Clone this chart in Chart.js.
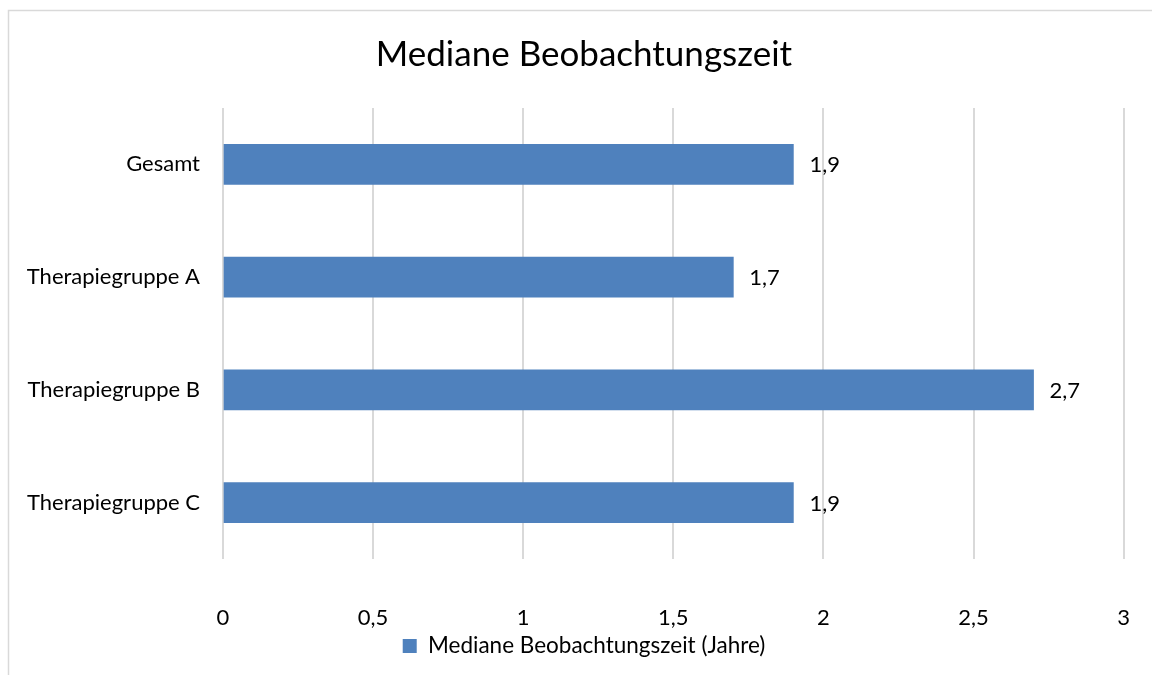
<!DOCTYPE html>
<html>
<head>
<meta charset="utf-8">
<script src="https://cdn.jsdelivr.net/npm/chart.js@4/dist/chart.umd.min.js"></script>
<style>
html,body{margin:0;padding:0;background:#fff;}
#wrap{width:1152px;height:675px;position:relative;}
</style>
</head>
<body>
<div id="wrap"><canvas id="c" width="1152" height="675"></canvas></div>
<script>
const categories = ["Gesamt", "Therapiegruppe A", "Therapiegruppe B", "Therapiegruppe C"];
const seriesName = "Mediane Beobachtungszeit (Jahre)";
const values = [1.9, 1.7, 2.7, 1.9];
const titleText = "Mediane Beobachtungszeit";
const xMin = 0, xMax = 3, xStep = 0.5;

const FONT = "Lato, 'Open Sans', sans-serif";
const fmt = v => String(v).replace('.', ',');

const framePlugin = {
  id: 'frame',
  beforeDraw(chart) {
    const ctx = chart.ctx;
    ctx.save();
    ctx.fillStyle = '#ffffff';
    ctx.fillRect(0, 0, chart.width, chart.height);
    ctx.strokeStyle = '#d9d9d9';
    ctx.lineWidth = 1.5;
    ctx.strokeRect(8.5, 10.5, 1400, 900);
    ctx.restore();
  }
};

const labelPlugin = {
  id: 'barLabels',
  afterDatasetsDraw(chart) {
    const ctx = chart.ctx;
    const meta = chart.getDatasetMeta(0);
    ctx.save();
    ctx.font = "22px " + FONT;
    ctx.fillStyle = '#000000';
    ctx.textAlign = 'left';
    ctx.textBaseline = 'middle';
    meta.data.forEach((bar, i) => {
      ctx.fillText(fmt(values[i]), bar.x + 16, bar.y + 1);
    });
    ctx.restore();
  }
};

new Chart(document.getElementById('c'), {
  type: 'bar',
  data: {
    labels: categories,
    datasets: [{
      label: seriesName,
      data: values,
      backgroundColor: '#4f81bd',
      borderWidth: 0,
      barThickness: 40
    }]
  },
  options: {
    indexAxis: 'y',
    responsive: false,
    animation: false,
    devicePixelRatio: 1,
    layout: { padding: { left: 0, right: -16, top: 0, bottom: 7.75 } },
    scales: {
      x: {
        min: xMin, max: xMax,
        afterFit(scale) { scale.height = 71.75; },
        ticks: {
          stepSize: xStep,
          padding: 22,
          color: '#000000',
          font: { family: FONT, size: 22 },
          callback: v => fmt(v)
        },
        grid: { color: '#d9d9d9', lineWidth: 2, drawTicks: true, tickLength: 24, tickColor: 'rgba(0,0,0,0)' },
        border: { display: false }
      },
      y: {
        afterFit(scale) { scale.width = 223; },
        ticks: {
          padding: 23,
          color: '#000000',
          font: { family: FONT, size: 22 }
        },
        grid: { display: false, drawTicks: false },
        border: { display: false }
      }
    },
    plugins: {
      title: {
        display: true,
        text: titleText,
        color: '#000000',
        font: { family: FONT, size: 35, weight: 'normal' },
        padding: { top: 34, bottom: 32 }
      },
      legend: {
        display: true,
        position: 'bottom',
        labels: {
          boxWidth: 14,
          boxHeight: 14,
          padding: 4,
          color: '#000000',
          font: { family: FONT, size: 22.5 }
        }
      },
      tooltip: { enabled: false }
    }
  },
  plugins: [framePlugin, labelPlugin]
});
</script>
</body>
</html>
